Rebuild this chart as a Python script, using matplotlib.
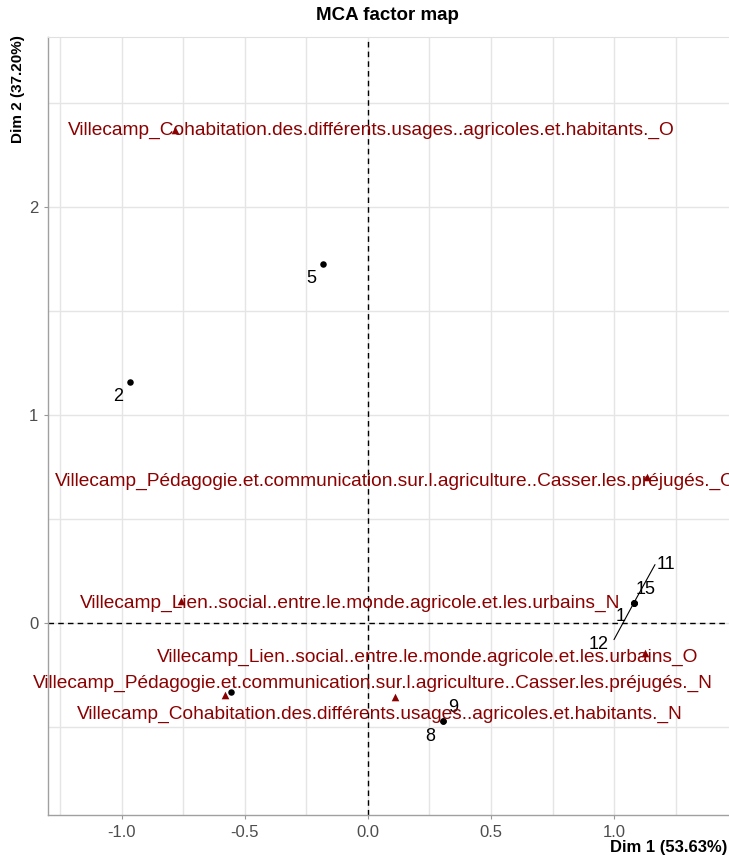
import matplotlib
matplotlib.use("Agg")
import matplotlib.pyplot as plt

plt.rcParams['font.family'] = ['Liberation Sans', 'DejaVu Sans']

# ---------------- data ----------------
ind_labels = ['1', '11', '12', '15', '2', '5', '8', '9', '']
ind_x = [1.081, 1.081, 1.081, 1.081, -0.967, -0.183, 0.304, 0.304, -0.558]
ind_y = [0.098, 0.098, 0.098, 0.098, 1.159, 1.726, -0.470, -0.470, -0.330]

var_labels = [
    'Villecamp_Cohabitation.des.différents.usages..agricoles.et.habitants._O',
    'Villecamp_Pédagogie.et.communication.sur.l.agriculture..Casser.les.préjugés._O',
    'Villecamp_Lien..social..entre.le.monde.agricole.et.les.urbains_N',
    'Villecamp_Lien..social..entre.le.monde.agricole.et.les.urbains_O',
    'Villecamp_Pédagogie.et.communication.sur.l.agriculture..Casser.les.préjugés._N',
    'Villecamp_Cohabitation.des.différents.usages..agricoles.et.habitants._N',
]
var_x = [-0.785, 1.134, -0.761, 1.126, -0.581, 0.110]
var_y = [2.370, 0.700, 0.107, -0.144, -0.346, -0.356]

x_ticks = [-1.0, -0.5, 0.0, 0.5, 1.0]
y_ticks = [0, 1, 2]
dim1_label = 'Dim 1 (53.63%)'
dim2_label = 'Dim 2 (37.20%)'
title = 'MCA factor map'

# ---------------- layout (pixel offsets, y down) ----------------
PX = 72 / 100.0
ind_off = {'1': (-13, 14), '11': (32, -38), '12': (-35, 42), '15': (12, -13),
           '2': (-12, 15), '5': (-12, 15), '8': (-13, 16), '9': (10, -13)}
var_off = [(-107, 0), (-592, 4), (-101, 3), (-488, 4), (-192, -12), (-318, 17)]
segment_labels = {'11': (21, -38), '12': (-20, 37)}

W, H = 729, 855
fig = plt.figure(figsize=(W / 100, H / 100), dpi=100)
L, R, T, B = 48, 729, 37, 815
ax = fig.add_axes([L / W, 1 - B / H, (R - L) / W, (B - T) / H])
ax.set_xlim(-1.30, 1.467)
ax.set_ylim(-0.923, 2.817)

grid_c = '#E5E5E5'
ax.set_xticks(x_ticks)
ax.set_yticks(y_ticks)
ax.set_xticks([-1.25, -0.75, -0.25, 0.25, 0.75, 1.25], minor=True)
ax.set_yticks([-0.5, 0.5, 1.5, 2.5], minor=True)
ax.grid(True, which='both', color=grid_c, linewidth=1.0)
ax.set_axisbelow(True)
ax.tick_params(which='minor', length=0)
ax.tick_params(which='major', length=3, color='#999999', labelsize=12,
               labelcolor='#4D4D4D', pad=4)
ax.set_xticklabels(['-1.0', '-0.5', '0.0', '0.5', '1.0'])
for s in ['left', 'bottom']:
    ax.spines[s].set_color('#A0A0A0')
    ax.spines[s].set_linewidth(1.0)
ax.spines['top'].set_color('#E0E0E0')
ax.spines['right'].set_visible(False)

ax.axhline(0, color='black', linestyle=(0, (4, 3)), linewidth=1.0, zorder=1)
ax.axvline(0, color='black', linestyle=(0, (4, 3)), linewidth=1.0, zorder=1)

red = '#8B0000'
# individuals
ax.scatter(ind_x, ind_y, s=22, color='black', zorder=4, linewidths=0)
for lab, x, y in zip(ind_labels, ind_x, ind_y):
    if not lab:
        continue
    if lab in segment_labels:
        sx, sy = segment_labels[lab]
        ax.annotate('', xy=(x, y), xytext=(sx * PX, -sy * PX),
                    textcoords='offset points',
                    arrowprops=dict(arrowstyle='-', color='black', lw=0.8,
                                    shrinkA=0, shrinkB=0))
    dx, dy = ind_off[lab]
    ax.annotate(lab, xy=(x, y), xytext=(dx * PX, -dy * PX), textcoords='offset points',
                ha='center', va='center', fontsize=13, color='black', zorder=5,
                annotation_clip=False)

# variable categories
ax.scatter(var_x, var_y, marker='^', s=30, color=red, zorder=4, linewidths=0)
for lab, x, y, (dx, dy) in zip(var_labels, var_x, var_y, var_off):
    t = ax.annotate(lab, xy=(x, y), xytext=(dx * PX, -dy * PX), textcoords='offset points',
                    ha='left', va='center', fontsize=13.8, color=red, zorder=5)
    t.set_clip_on(True)

fig.text(387 / W, 1 - 16 / H, title, ha='center', va='center',
         fontsize=13.5, fontweight='bold')
fig.text(727 / W, 1 - 847 / H, dim1_label, ha='right', va='center',
         fontsize=12, fontweight='bold')
fig.text(18 / W, 1 - 35 / H, dim2_label, ha='center', va='top', rotation=90,
         fontsize=11, fontweight='bold')

fig.savefig('out.png', dpi=100)
